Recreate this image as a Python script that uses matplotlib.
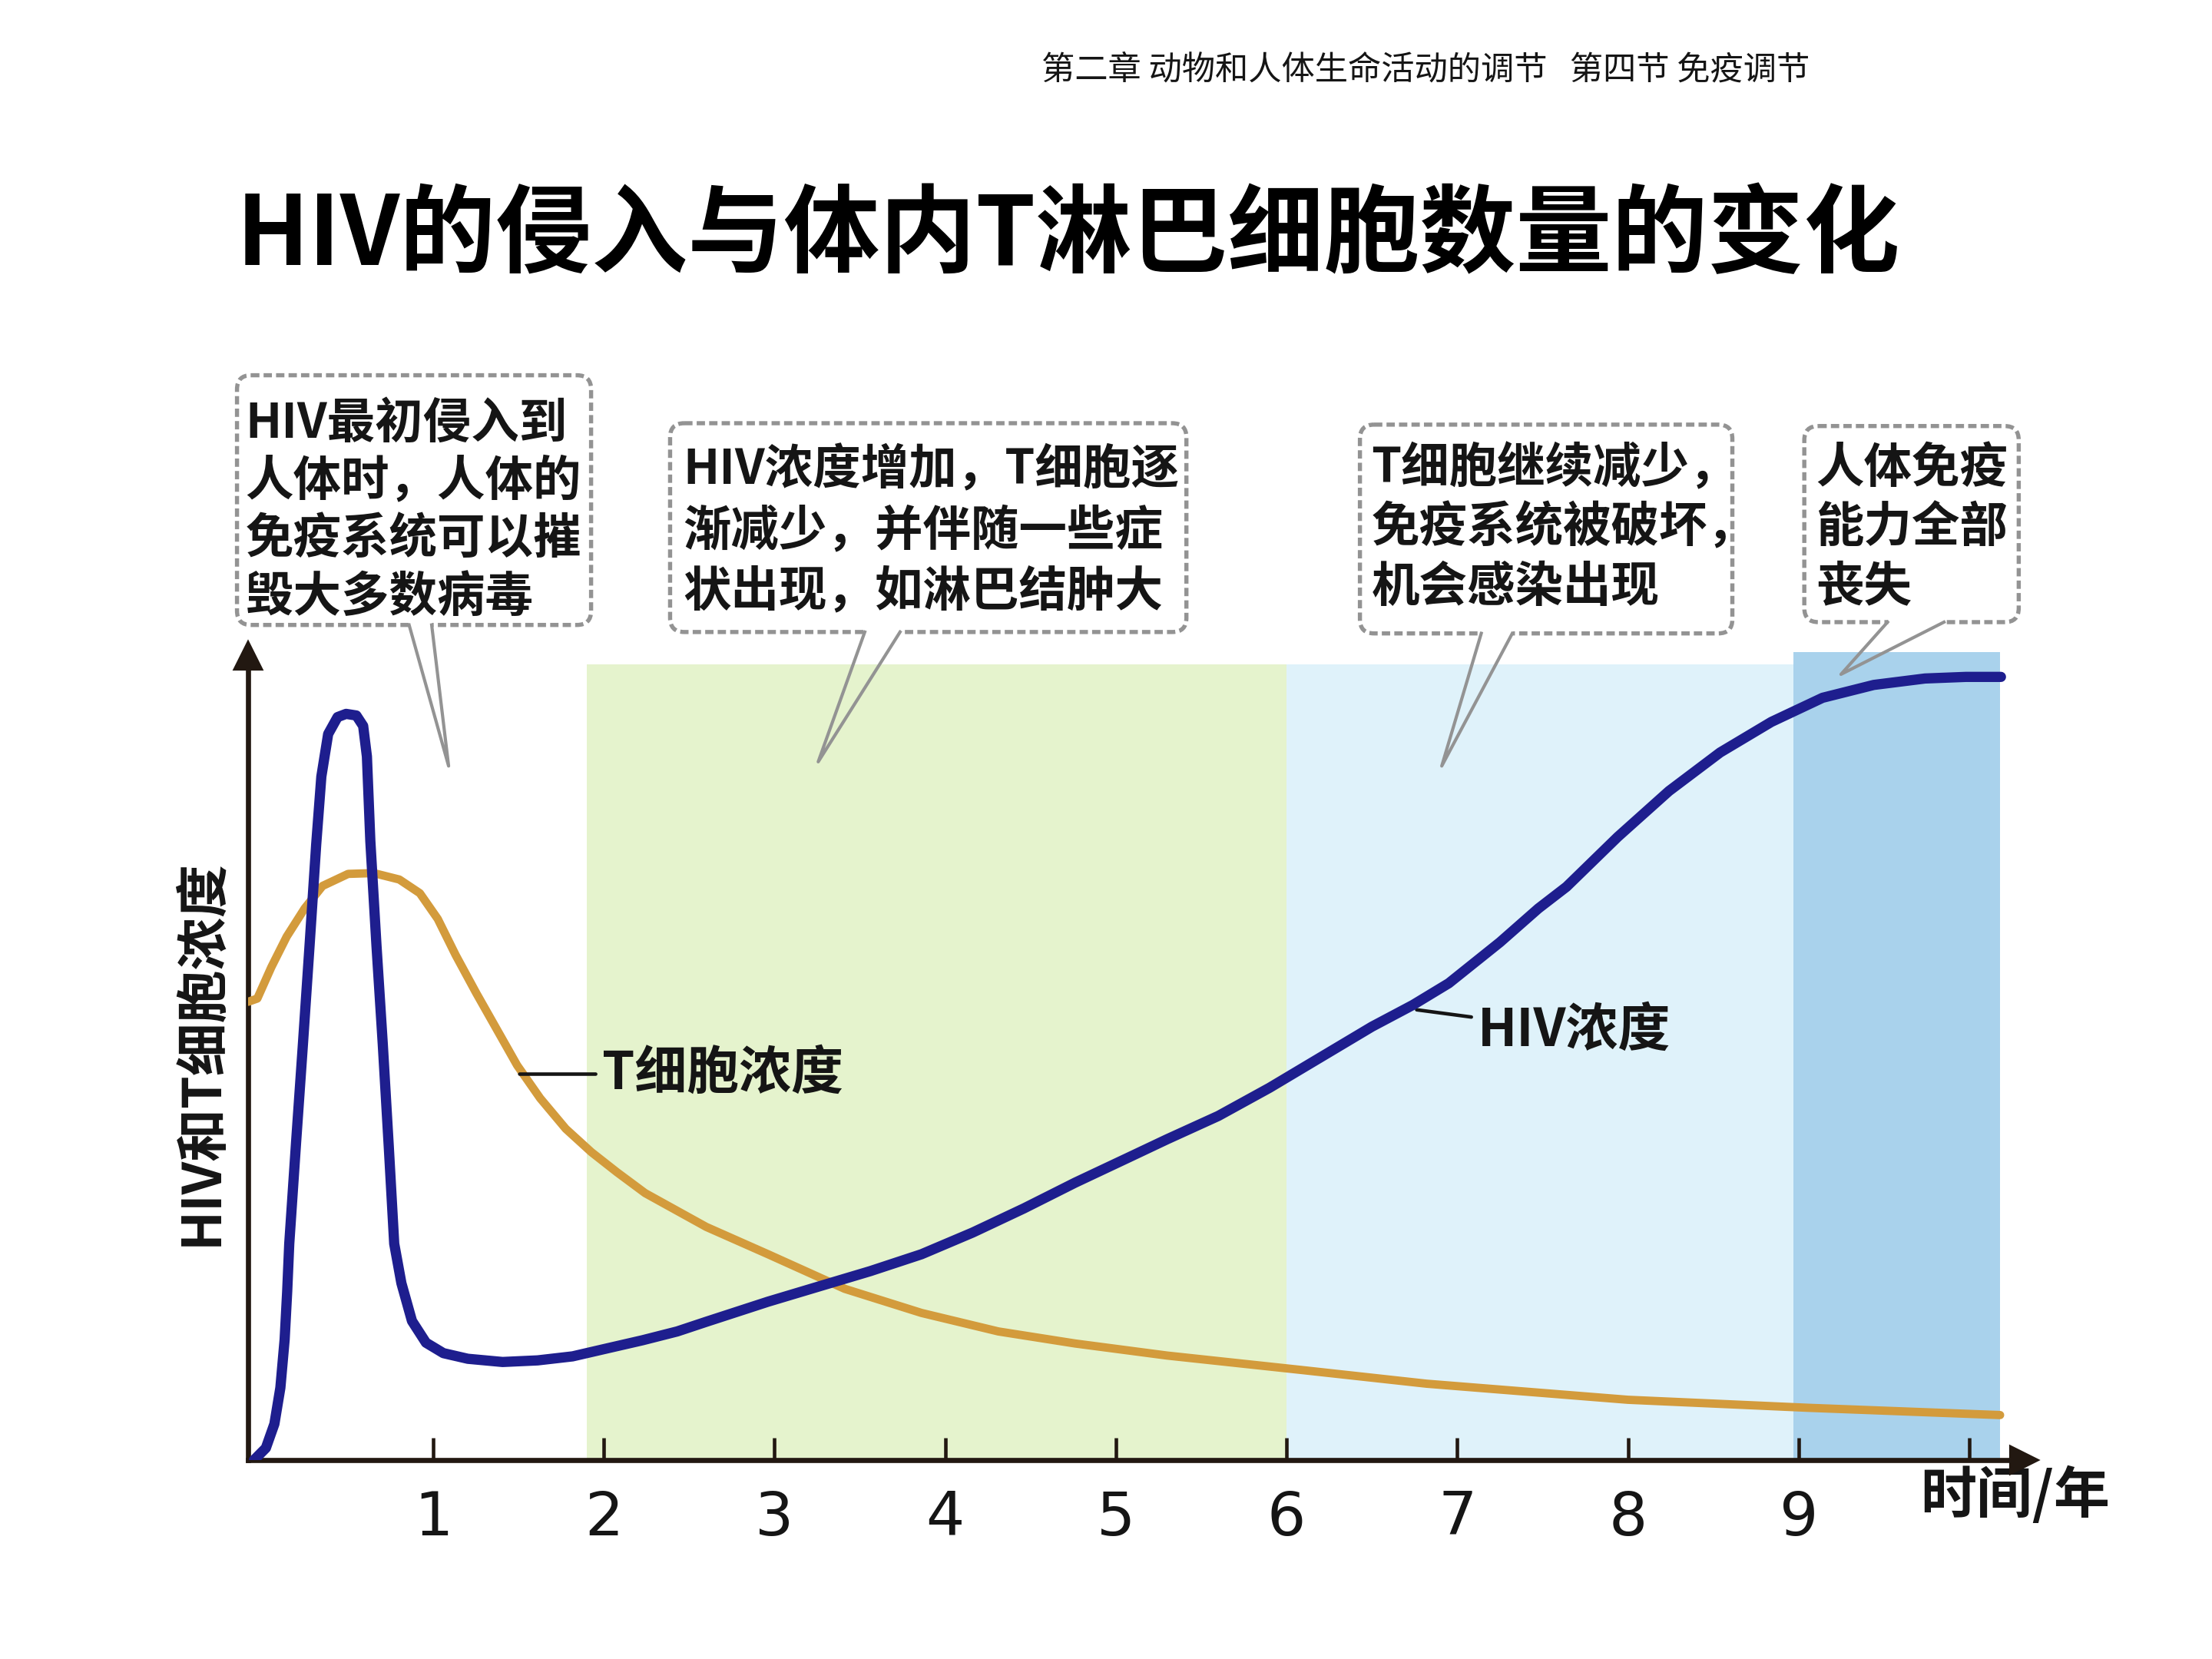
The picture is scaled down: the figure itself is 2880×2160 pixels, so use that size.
import matplotlib
matplotlib.use('Agg')
import matplotlib.pyplot as plt
from matplotlib.patches import FancyBboxPatch

plt.rcParams['font.family'] = ['Noto Sans CJK SC', 'DejaVu Sans']

# values: time in years, concentration in relative units (0-100)
hiv_years = [-0.05, 0.02, 0.07, 0.105, 0.13, 0.145, 0.157, 0.197, 0.237, 0.276, 0.315,
             0.345, 0.385, 0.44, 0.49, 0.55, 0.59, 0.612, 0.632, 0.668, 0.705, 0.740,
             0.772, 0.814, 0.876, 0.958, 1.06, 1.203, 1.407, 1.612, 1.817, 2.021, 2.226,
             2.43, 2.6, 2.962, 3.261, 3.561, 3.861, 4.161, 4.461, 4.761, 5.061, 5.30,
             5.6, 5.9, 6.2, 6.5, 6.74, 6.95, 7.25, 7.475, 7.64, 7.94, 8.24, 8.54, 8.84,
             9.14, 9.44, 9.74, 9.98, 10.185]
hiv_level = [0, 1.5, 4.5, 9.0, 15.0, 21.0, 26.9, 39.5, 51.7, 64.0, 76.6,
             85.0, 90.3, 92.4, 92.8, 92.6, 91.3, 87.5, 77.0, 64.0, 51.7, 39.0,
             26.9, 22.0, 17.3, 14.6, 13.3, 12.6, 12.2, 12.4, 12.9, 13.9, 14.9,
             16.0, 17.2, 19.7, 21.6, 23.5, 25.6, 28.3, 31.3, 34.5, 37.5, 39.9,
             42.8, 46.3, 50.1, 53.9, 56.6, 59.3, 64.4, 68.6, 71.3, 77.5, 83.2, 88.0, 91.8,
             94.8, 96.4, 97.2, 97.4, 97.4]

tcell_years = [-0.083, -0.03, 0.052, 0.142, 0.247, 0.352, 0.502, 0.652, 0.802, 0.922,
               1.027, 1.132, 1.252, 1.372, 1.492, 1.627, 1.777, 1.927, 2.077, 2.242,
               2.6, 2.962, 3.411, 3.861, 4.311, 4.761, 5.30, 6.09, 6.82, 8.0, 9.06, 10.18]
tcell_level = [57.0, 57.4, 61.3, 65.1, 68.6, 71.4, 72.9, 73.0, 72.2, 70.5,
               67.3, 62.8, 58.1, 53.6, 49.1, 45.0, 41.2, 38.3, 35.8, 33.2,
               29.0, 25.6, 21.3, 18.3, 16.0, 14.5, 13.0, 11.2, 9.5, 7.5, 6.5, 5.6]

tick_years = [1, 2, 3, 4, 5, 6, 7, 8, 9, 10]
tick_labels = ['1', '2', '3', '4', '5', '6', '7', '8', '9', '']

# shaded stages of the infection
stage_starts = [1.9, 6.0, 8.97]
stage_ends = [6.0, 8.97, 10.18]
stage_tops = [99.0, 99.0, 100.5]
stage_colors = ['#e5f3cd', '#dff2fa', '#a9d2ec']

callout_texts = [
    ['HIV最初侵入到', '人体时，人体的', '免疫系统可以摧', '毁大多数病毒'],
    ['HIV浓度增加，T细胞逐', '渐减少，并伴随一些症', '状出现，如淋巴结肿大'],
    ['T细胞继续减少，', '免疫系统被破坏，', '机会感染出现'],
    ['人体免疫', '能力全部', '丧失'],
]

header = '第二章 动物和人体生命活动的调节   第四节 免疫调节'
title = 'HIV的侵入与体内T淋巴细胞数量的变化'

hiv_color = '#1e1e8e'
tcell_color = '#d39b3c'
axis_color = '#221811'
border_color = '#939393'
text_color = '#151515'

# page layout, in pixels of a 1568x1176 page
PAGE_W, PAGE_H = 1568, 1176
callout_boxes = [(168, 266, 419, 443), (475, 300, 841, 448),
                 (964, 301, 1228, 449), (1279, 302, 1431, 441)]
callout_tails = [(290, 306, 318, 543), (613, 638, 580, 540),
                 (1050, 1072, 1022, 543), (1338, 1378, 1305, 478)]
callout_text_pos = [(174, 300, 41), (484, 333, 43), (972, 332, 42), (1287, 332, 42)]


def page_rect(x0, y0, x1, y1):
    return [x0 / PAGE_W, 1 - y1 / PAGE_H, (x1 - x0) / PAGE_W, (y1 - y0) / PAGE_H]


fig = plt.figure(figsize=(9.6, 7.2), dpi=300)
fig.patch.set_facecolor('white')

ax = fig.add_axes(page_rect(176, 453.6, 1444.4, 1035))
ax.set_xlim(-0.083, 10.4)
ax.set_ylim(0, 102)
ax.patch.set_visible(False)

for s, e, top, c in zip(stage_starts, stage_ends, stage_tops, stage_colors):
    ax.axvspan(s, e, ymin=0, ymax=top / 102, color=c, lw=0, zorder=0)

ax.plot(tcell_years, tcell_level, color=tcell_color, lw=2.6,
        solid_joinstyle='round', solid_capstyle='round', zorder=3)
ax.plot(hiv_years, hiv_level, color=hiv_color, lw=3.2,
        solid_joinstyle='round', solid_capstyle='round', zorder=4)

for side in ('top', 'right'):
    ax.spines[side].set_visible(False)
for side in ('left', 'bottom'):
    ax.spines[side].set_color(axis_color)
    ax.spines[side].set_linewidth(1.6)
ax.spines['left'].set_bounds(0, 100)
ax.spines['bottom'].set_bounds(-0.083, 10.32)
ax.plot([10.32], [0], marker='>', ms=8, color=axis_color, clip_on=False, zorder=6)
ax.plot([-0.083], [100], marker='^', ms=8, color=axis_color, clip_on=False, zorder=6)

ax.set_xticks(tick_years, tick_labels)
ax.tick_params(axis='x', direction='in', length=7, width=1.1, pad=9,
               labelsize=19, color=axis_color, labelcolor=text_color)
for lbl in ax.get_xticklabels():
    lbl.set_family(['DejaVu Sans'])
ax.tick_params(axis='y', left=False, labelleft=False)

ax.set_ylabel('HIV和T细胞浓度', fontsize=16.5, weight='bold', color=text_color)
ax.yaxis.set_label_coords(-0.011, 0.497)

ax.text(10.27, -4.5, '时间/年', fontsize=17.5, weight='bold', color=text_color,
        ha='center', va='center', clip_on=False)

ax.annotate('T细胞浓度', xy=(1.507, 48.0), xytext=(1.99, 48.0), ha='left', va='center',
            fontsize=16.3, weight='bold', color=text_color,
            arrowprops=dict(arrowstyle='-', color=text_color, lw=1.1, shrinkA=0, shrinkB=0))
ax.annotate('HIV浓度', xy=(6.762, 56.0), xytext=(7.12, 53.4), ha='left', va='center',
            fontsize=16.3, weight='bold', color=text_color,
            arrowprops=dict(arrowstyle='-', color=text_color, lw=1.1, shrinkA=0, shrinkB=0))

# overlay in page pixels for header, title and the speech bubbles
lay = fig.add_axes([0, 0, 1, 1], zorder=5)
lay.set_xlim(0, PAGE_W)
lay.set_ylim(PAGE_H, 0)
lay.axis('off')

lay.text(738, 50, header, fontsize=10.4, style='italic', weight='medium',
         color=text_color, ha='left', va='center')
lay.text(757, 168, title, fontsize=30, style='italic', weight='heavy',
         color='black', ha='center', va='center')

for (x0, y0, x1, y1), (ba, bb, tx, ty), (lx, ly0, step), lines in zip(
        callout_boxes, callout_tails, callout_text_pos, callout_texts):
    box = FancyBboxPatch((x0, y0), x1 - x0, y1 - y0,
                         boxstyle='round,pad=0,rounding_size=10',
                         fc='white', ec=border_color, lw=1.3, ls=(0, (2, 1)))
    lay.add_patch(box)
    lay.plot([ba, bb], [y1, y1], color='white', lw=3, solid_capstyle='butt')
    lay.plot([ba, tx, bb], [y1, ty, y1], color=border_color, lw=1.0)
    for i, line in enumerate(lines):
        lay.text(lx, ly0 + i * step, line, fontsize=15.0, weight='bold',
                 color=text_color, ha='left', va='center')

fig.savefig('out.png', dpi=300, facecolor='white')
